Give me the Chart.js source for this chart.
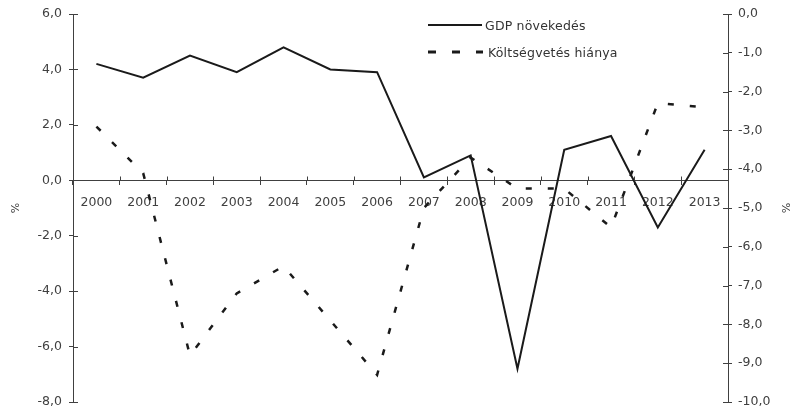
<!DOCTYPE html>
<html>
<head>
<meta charset="utf-8">
<script src="https://cdn.jsdelivr.net/npm/chart.js@4.4.1/dist/chart.umd.min.js"></script>
<style>
  body { margin: 0; background: #fff; }
  #wrap { position: relative; width: 791px; height: 410px; }
  .legend { position: absolute; left: 428px; font: 12.5px "DejaVu Sans", sans-serif; color: #333; display: flex; align-items: center; letter-spacing: 0.2px; }
  .legend svg { display: block; margin-right: 2px; }
</style>
</head>
<body>
<div id="wrap">
  <canvas id="gdpChart" width="791" height="410"></canvas>
  <div class="legend" style="top:17px">
    <svg width="55" height="16"><line x1="0" y1="8" x2="54" y2="8" stroke="#1a1a1a" stroke-width="2"/></svg>
    <span>GDP növekedés</span>
  </div>
  <div class="legend" style="top:44px">
    <svg width="58" height="16"><line x1="0" y1="8" x2="55" y2="8" stroke="#1a1a1a" stroke-width="3" stroke-dasharray="8,16"/></svg>
    <span>Költségvetés hiánya</span>
  </div>
</div>
<script>
const years = ['2000', '2001', '2002', '2003', '2004', '2005', '2006',
               '2007', '2008', '2009', '2010', '2011', '2012', '2013'];
const gdpGrowth = [4.2, 3.7, 4.5, 3.9, 4.8, 4.0, 3.9, 0.1, 0.9, -6.8, 1.1, 1.6, -1.7, 1.1];
const budgetDeficit = [-2.9, -4.1, -8.8, -7.2, -6.5, -7.9, -9.3, -5.0, -3.7, -4.5, -4.5, -5.5, -2.3, -2.4];

const axisColor = '#404040';
const textColor = '#404040';
const tickFont = { family: 'DejaVu Sans', size: 12.5 };
const fmt = v => Number(v).toFixed(1).replace('.', ',');

// fixed axis widths, and no extra room for the end labels
const fitY = w => s => { s.width = w; s.paddingTop = 0; s.paddingBottom = 0; };

// small tick marks on the inner side of each axis
const innerTicks = {
  id: 'innerTicks',
  afterDraw(chart) {
    const { ctx, scales: { x, y, y1 } } = chart;
    ctx.save();
    ctx.strokeStyle = axisColor;
    ctx.lineWidth = 1;
    const line = (x1, y1_, x2, y2) => { ctx.beginPath(); ctx.moveTo(x1, y1_); ctx.lineTo(x2, y2); ctx.stroke(); };
    const half = (x.getPixelForValue(1) - x.getPixelForValue(0)) / 2;
    const zero = Math.round(y.getPixelForValue(0)) + 0.5;
    for (let i = 0; i <= years.length; i++) {
      const px = Math.round(x.getPixelForValue(i) - half) + 0.5;
      line(px, zero - 4, px, zero);
    }
    y.ticks.forEach(t => {
      const py = Math.round(y.getPixelForValue(t.value)) + 0.5;
      line(y.right, py, y.right + 5, py);
    });
    y1.ticks.forEach(t => {
      const py = Math.round(y1.getPixelForValue(t.value)) + 0.5;
      line(y1.left - 5, py, y1.left, py);
    });
    ctx.restore();
  }
};

const ctx = document.getElementById('gdpChart').getContext('2d');

new Chart(ctx, {
  type: 'line',
  data: {
    labels: years,
    datasets: [{
      label: 'GDP növekedés',
      data: gdpGrowth,
      yAxisID: 'y',
      borderColor: '#1a1a1a',
      borderWidth: 2,
      pointRadius: 0,
      tension: 0
    }, {
      label: 'Költségvetés hiánya',
      data: budgetDeficit,
      yAxisID: 'y1',
      borderColor: '#1a1a1a',
      borderWidth: 2.5,
      borderDash: [6, 16],
      pointRadius: 0,
      tension: 0
    }]
  },
  options: {
    responsive: false,
    animation: false,
    layout: { padding: { top: 14, bottom: 8, left: 0, right: 0 } },
    plugins: {
      legend: { display: false },
      tooltip: { enabled: false }
    },
    scales: {
      x: {
        type: 'category',
        offset: true,
        position: { y: 0 },
        afterFit: s => { s.height = 0; },
        grid: { display: true, drawOnChartArea: false, offset: true, tickLength: 4, color: axisColor },
        border: { display: true, color: axisColor, width: 1 },
        ticks: { font: tickFont, color: textColor, padding: 11, maxRotation: 0, autoSkip: false }
      },
      y: {
        position: 'left',
        min: -8,
        max: 6,
        afterFit: fitY(73),
        grid: { display: true, drawOnChartArea: false, tickLength: 4, color: axisColor },
        border: { display: true, color: axisColor, width: 1 },
        ticks: { stepSize: 2, font: tickFont, color: textColor, padding: 7, callback: fmt },
        title: { display: true, text: '%', color: textColor, font: { family: 'DejaVu Sans', size: 11 }, padding: { top: 10, bottom: 0 } }
      },
      y1: {
        position: 'right',
        min: -10,
        max: 0,
        afterFit: fitY(63),
        grid: { display: true, drawOnChartArea: false, tickLength: 4, color: axisColor },
        border: { display: true, color: axisColor, width: 1 },
        ticks: { stepSize: 1, font: tickFont, color: textColor, padding: 6, callback: fmt },
        title: { display: true, text: '%', color: textColor, font: { family: 'DejaVu Sans', size: 11 }, padding: { top: 0, bottom: 0 } }
      }
    }
  },
  plugins: [innerTicks]
});
</script>
</body>
</html>
